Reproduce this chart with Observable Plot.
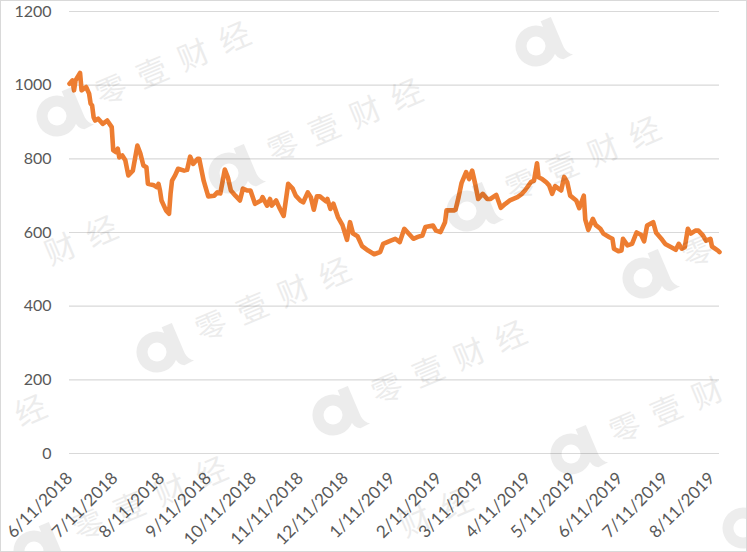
<!DOCTYPE html>
<html><head><meta charset="utf-8">
<script src="https://cdn.jsdelivr.net/npm/d3@7"></script>
<script src="https://cdn.jsdelivr.net/npm/@observablehq/plot@0.6"></script>
<style>
html,body{margin:0;padding:0;background:#fff;}
#wrap{position:relative;width:747px;height:552px;overflow:hidden;background:#fff;}
#frame{position:absolute;left:0;top:0;width:747px;height:552px;box-sizing:border-box;border:1px solid #d9d9d9;pointer-events:none;}
#wm{position:absolute;left:0;top:0;pointer-events:none;}
</style></head><body>
<div id="wrap"><div id="chart"></div><svg id="wm" width="747" height="552"></svg><div id="frame"></div></div>
<script>
const dates = [
"2018-06-11","2018-06-13","2018-06-14","2018-06-15","2018-06-18","2018-06-19","2018-06-22","2018-06-24","2018-06-25","2018-06-26",
"2018-06-27","2018-06-28","2018-06-30","2018-07-03","2018-07-06","2018-07-09","2018-07-10","2018-07-12","2018-07-13","2018-07-14",
"2018-07-16","2018-07-18","2018-07-20","2018-07-23","2018-07-26","2018-07-28","2018-07-30","2018-08-01","2018-08-02","2018-08-06",
"2018-08-08","2018-08-09","2018-08-10","2018-08-11","2018-08-14","2018-08-16","2018-08-17","2018-08-18","2018-08-20","2018-08-22",
"2018-08-26","2018-08-28","2018-08-30","2018-09-01","2018-09-04","2018-09-05","2018-09-08","2018-09-11","2018-09-15","2018-09-17",
"2018-09-19","2018-09-22","2018-09-24","2018-09-26","2018-09-29","2018-10-02","2018-10-04","2018-10-07","2018-10-09","2018-10-12",
"2018-10-16","2018-10-17","2018-10-20","2018-10-22","2018-10-23","2018-10-26","2018-10-28","2018-10-31","2018-11-03","2018-11-06",
"2018-11-08","2018-11-11","2018-11-13","2018-11-16","2018-11-18","2018-11-20","2018-11-22","2018-11-24","2018-11-28","2018-11-29",
"2018-12-01","2018-12-03","2018-12-06","2018-12-09","2018-12-12","2018-12-14","2018-12-16","2018-12-19","2018-12-22","2018-12-26",
"2018-12-30","2019-01-03","2019-01-05","2019-01-10","2019-01-13","2019-01-16","2019-01-19","2019-01-25","2019-01-28","2019-01-31",
"2019-02-02","2019-02-07","2019-02-09","2019-02-12","2019-02-15","2019-02-16","2019-02-21","2019-02-22","2019-02-24","2019-02-26",
"2019-03-01","2019-03-03","2019-03-05","2019-03-07","2019-03-09","2019-03-12","2019-03-15","2019-03-17","2019-03-21","2019-03-24",
"2019-03-27","2019-03-30","2019-04-04","2019-04-07","2019-04-09","2019-04-13","2019-04-15","2019-04-17","2019-04-18","2019-04-20",
"2019-04-23","2019-04-25","2019-04-27","2019-04-29","2019-05-01","2019-05-03","2019-05-05","2019-05-07","2019-05-09","2019-05-13",
"2019-05-15","2019-05-18","2019-05-19","2019-05-21","2019-05-24","2019-05-26","2019-05-29","2019-05-31","2019-06-04","2019-06-06",
"2019-06-07","2019-06-10","2019-06-12","2019-06-13","2019-06-16","2019-06-19","2019-06-22","2019-06-25","2019-06-27","2019-06-29",
"2019-07-03","2019-07-05","2019-07-09","2019-07-11","2019-07-15","2019-07-18","2019-07-20","2019-07-22","2019-07-24","2019-07-26",
"2019-07-28","2019-07-31","2019-08-02","2019-08-05","2019-08-07","2019-08-10","2019-08-11","2019-08-15","2019-08-16"
];
const values = [
1004,1013,986,1013,1033,986,995,977,950,945,
913,904,909,895,904,886,823,818,828,804,
809,796,755,768,836,814,782,777,732,728,
723,732,714,687,660,651,705,741,755,773,
768,770,806,786,800,800,740,698,700,709,
706,771,750,714,700,687,719,714,714,678,
687,696,673,691,673,687,669,645,732,719,
700,687,682,709,696,662,698,698,685,691,
664,678,642,620,580,628,597,590,563,551,
541,547,569,578,583,574,610,583,588,592,
615,619,605,601,628,660,660,662,696,735,
764,745,768,732,691,705,691,691,702,667,
678,687,696,705,714,737,741,788,750,746,
737,728,705,726,720,714,751,737,700,687,
666,700,635,607,637,620,610,597,587,583,
556,549,551,583,565,569,600,594,576,619,
628,599,580,569,560,553,569,556,560,610,
597,605,605,592,578,583,562,551,547
];
const tickDates = [
"2018-06-11","2018-07-11","2018-08-11","2018-09-11","2018-10-11","2018-11-11","2018-12-11",
"2019-01-11","2019-02-11","2019-03-11","2019-04-11","2019-05-11","2019-06-11","2019-07-11","2019-08-11"
];
const xDomain = ["2018-06-11","2019-08-16"];
const yTicks = [0,200,400,600,800,1000,1200];
const watermarkText = "零壹财经";
const watermarkSpots = [[57,116],[536,46],[229,173],[467,211],[643,278],[-76,310],[157,352],[333,415],[571,454],[-147,489],[34,551],[279,582],[743,528]];

const toDate = s => new Date(s + "T00:00:00Z");
const data = dates.map((d, i) => ({date: toDate(d), value: values[i]}));

const chart = Plot.plot({
  width: 747, height: 552,
  marginLeft: 69, marginRight: 28, marginTop: 11, marginBottom: 99,
  style: {fontFamily: "Lato, 'Open Sans', sans-serif", fontSize: "16px", color: "#595959", background: "transparent", overflow: "visible"},
  x: {type: "utc", domain: xDomain.map(toDate)},
  y: {domain: [0, 1200]},
  marks: [
    Plot.gridY(yTicks, {stroke: "#d9d9d9", strokeOpacity: 1, strokeWidth: 1.2}),
    Plot.axisY(yTicks, {tickSize: 0, tickPadding: 18, label: null, fontSize: 16, tickFormat: d => String(d)}),
    Plot.axisX(tickDates.map(toDate), {tickSize: 0, tickPadding: 22, tickRotate: -45, label: null, fontSize: 17,
      tickFormat: d => `${d.getUTCMonth() + 1}/${d.getUTCDate()}/${d.getUTCFullYear()}`}),
    Plot.line(data, {x: "date", y: "value", stroke: "#ED7D31", strokeWidth: 4.6, strokeLinejoin: "round", strokeLinecap: "round"})
  ]
});
document.getElementById("chart").appendChild(chart);

// faint publisher watermark (only characters that fit wholly inside the picture)
const wm = d3.select("#wm");
const rad = -23 * Math.PI / 180;
watermarkSpots.forEach(([x, y]) => {
  const g = wm.append("g").attr("transform", `translate(${x},${y}) rotate(-23)`).attr("opacity", 0.07);
  g.append("circle").attr("r", 15).attr("fill", "none").attr("stroke", "#000").attr("stroke-width", 11);
  g.append("path").attr("d", "M14,-21 L25,-21 L25,12 Q26,20 31,22 L20,23 Q14,20 14,10 Z").attr("fill", "#000");
  [...watermarkText].forEach((c, i) => {
    const lx = 60 + i * 44.7, ly = -5;
    const sx = x + lx * Math.cos(rad) - ly * Math.sin(rad);
    const sy = y + lx * Math.sin(rad) + ly * Math.cos(rad);
    if (sx < 22 || sx > 725 || sy < 22 || sy > 530) return;
    g.append("text")
      .attr("x", lx).attr("y", ly)
      .attr("text-anchor", "middle").attr("dominant-baseline", "central")
      .attr("font-family", "'Noto Sans CJK SC'").attr("font-size", 31).attr("fill", "#000")
      .text(c);
  });
});
</script>
</body></html>
